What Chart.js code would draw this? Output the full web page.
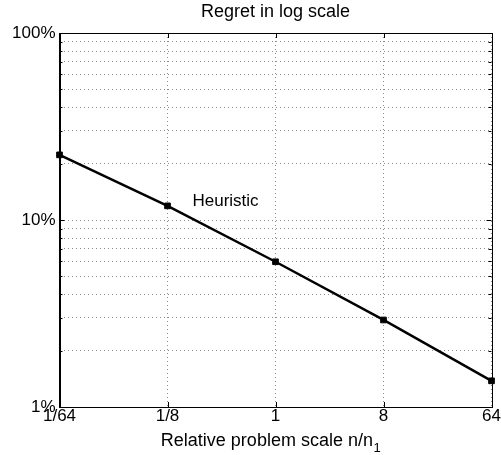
<!DOCTYPE html>
<html>
<head>
<meta charset="utf-8">
<script src="https://cdn.jsdelivr.net/npm/chart.js@4/dist/chart.umd.min.js"></script>
<style>
html,body{margin:0;padding:0;background:#fff;}
#wrap{width:501px;height:455px;}
</style>
</head>
<body>
<div id="wrap"><canvas id="c" width="501" height="455"></canvas></div>
<script>
const categories = ['1/64', '1/8', '1', '8', '64'];
const regret = [22.3, 11.9, 5.98, 2.92, 1.38];
const yMajorTicks = [1, 10, 100];
const yMinorTicks = [2, 3, 4, 5, 6, 7, 8, 9, 20, 30, 40, 50, 60, 70, 80, 90];
const seriesLabel = 'Heuristic';
const titleText = 'Regret in log scale';
const xTitleMain = 'Relative problem scale n/n';
const xTitleSub = '1';

const FONT = 'Liberation Sans, Arial, Helvetica, sans-serif';
const FS = 17;

const frame = {
  id: 'frame',
  afterDraw(chart) {
    const {ctx, chartArea: a, scales} = chart;
    ctx.save();
    ctx.strokeStyle = '#000';
    ctx.lineWidth = 1;
    ctx.beginPath();
    scales.x.ticks.forEach((t, i) => {
      const x = Math.round(scales.x.getPixelForTick(i)) + 0.5;
      ctx.moveTo(x, a.top); ctx.lineTo(x, a.top + 5);
      ctx.moveTo(x, a.bottom); ctx.lineTo(x, a.bottom - 5);
    });
    scales.y.ticks.forEach(t => {
      const y = Math.round(scales.y.getPixelForValue(t.value)) + 0.5;
      const len = yMajorTicks.includes(t.value) ? 5 : 3;
      ctx.moveTo(a.left, y); ctx.lineTo(a.left + len, y);
      ctx.moveTo(a.right, y); ctx.lineTo(a.right - len, y);
    });
    ctx.stroke();
    ctx.strokeRect(Math.round(a.left) + 0.5, Math.round(a.top) + 0.5,
                   Math.round(a.right - a.left), Math.round(a.bottom - a.top));
    // series label
    const px = scales.x.getPixelForValue(1);
    const py = scales.y.getPixelForValue(regret[1]);
    ctx.fillStyle = '#000';
    ctx.font = FS + 'px ' + FONT;
    ctx.textBaseline = 'middle';
    ctx.textAlign = 'left';
    ctx.fillText(seriesLabel, px + 25, py - 5);
    // x axis title with subscript
    ctx.font = '18px ' + FONT;
    const wMain = ctx.measureText(xTitleMain).width;
    ctx.font = '13px ' + FONT;
    const wSub = ctx.measureText(xTitleSub).width;
    const cx = (a.left + a.right) / 2;
    const x0 = cx - (wMain + wSub) / 2 - 5;
    const base = a.bottom + 39;
    ctx.textBaseline = 'alphabetic';
    ctx.font = '18px ' + FONT;
    ctx.fillText(xTitleMain, x0, base);
    ctx.font = '13px ' + FONT;
    ctx.fillText(xTitleSub, x0 + wMain + 0.5, base + 6);
    ctx.restore();
  }
};

new Chart(document.getElementById('c'), {
  type: 'line',
  data: {
    labels: categories,
    datasets: [{
      label: seriesLabel,
      data: regret,
      borderColor: '#000',
      backgroundColor: '#000',
      borderWidth: 2.5,
      tension: 0,
      pointStyle: 'rect',
      pointRadius: 4,
      pointBorderWidth: 1,
      pointBackgroundColor: '#000',
      pointBorderColor: '#000'
    }]
  },
  options: {
    responsive: false,
    animation: false,
    layout: { padding: { left: 0, right: 9.5, top: 0, bottom: 0 } },
    plugins: {
      legend: { display: false },
      tooltip: { enabled: false },
      title: {
        display: true,
        text: titleText,
        fullSize: false,
        color: '#000',
        font: { family: FONT, size: 18, weight: 'normal', lineHeight: 1.2 },
        padding: { top: 1, bottom: 10.4 }
      }
    },
    scales: {
      x: {
        type: 'category',
        offset: false,
        grid: { color: '#8c8c8c', lineWidth: 1, drawTicks: false },
        border: { display: true, color: '#000', dash: [1, 3] },
        ticks: { color: '#000', font: { family: FONT, size: FS }, padding: -1, maxRotation: 0, autoSkip: false },
        title: { display: false },
        afterFit(s) { s.height = 48; }
      },
      y: {
        type: 'logarithmic',
        min: 1,
        max: 100,
        grid: { color: '#8c8c8c', lineWidth: 1, drawTicks: false },
        border: { display: true, color: '#000', dash: [1, 3] },
        afterBuildTicks(s) {
          s.ticks = yMajorTicks.concat(yMinorTicks).sort((a, b) => a - b).map(v => ({ value: v }));
        },
        ticks: {
          color: '#000',
          font: { family: FONT, size: FS },
          padding: 4,
          autoSkip: false,
          callback(v) { return yMajorTicks.includes(v) ? v + '%' : ''; }
        },
        afterFit(s) { s.width = 59.5; }
      }
    }
  },
  plugins: [frame]
});
</script>
</body>
</html>
